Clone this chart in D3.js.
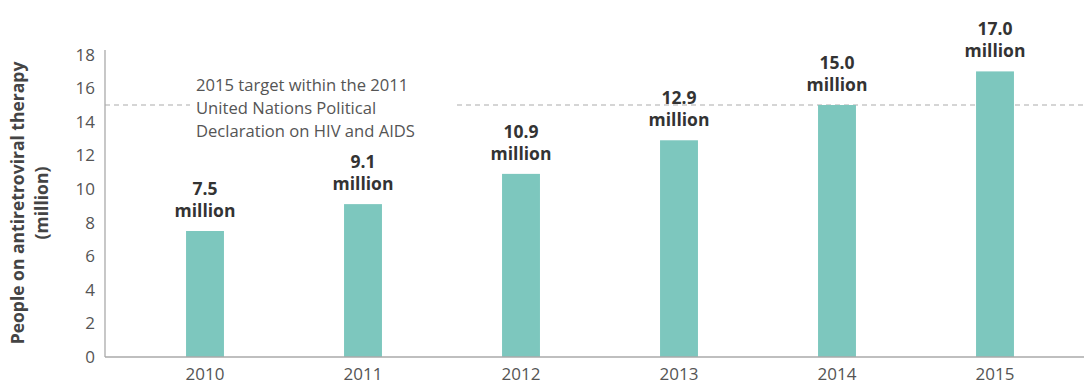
<!DOCTYPE html>
<html>
<head>
<meta charset="utf-8">
<script src="https://cdn.jsdelivr.net/npm/d3@7"></script>
<style>
  html, body { margin: 0; padding: 0; background: #fff; }
  svg { display: block; font-family: "Open Sans", Lato, sans-serif; }
</style>
</head>
<body>
<svg id="chart" width="1084" height="381"></svg>
<script>
// People on antiretroviral therapy, 2010–2015 (million)
const years = ["2010", "2011", "2012", "2013", "2014", "2015"];
const people = [7.5, 9.1, 10.9, 12.9, 15.0, 17.0];
const valueLabels = ["7.5", "9.1", "10.9", "12.9", "15.0", "17.0"];
const yTicks = [0, 2, 4, 6, 8, 10, 12, 14, 16, 18];
const target = 15;
const targetNote = [
  "2015 target within the 2011",
  "United Nations Political",
  "Declaration on HIV and AIDS"
];

const svg = d3.select("#chart");
const axisX = 105, baseY = 357;
const font = "'Open Sans', Lato, sans-serif";

const x = d3.scaleBand()
  .domain(years)
  .range([126, 1074])
  .paddingInner(0.76)
  .paddingOuter(0.38);

const y = d3.scaleLinear()
  .domain([0, 18])
  .range([baseY, baseY - 18 * 16.8]);

// target reference line (behind the bars), broken where the note sits
const tY = y(target);
[[axisX, 190], [457, 1084]].forEach(([a, b]) => {
  svg.append("line")
    .attr("x1", a).attr("x2", b)
    .attr("y1", tY).attr("y2", tY)
    .attr("stroke", "#ababab")
    .attr("stroke-width", 1.2)
    .attr("stroke-dasharray", "5,4");
});

svg.append("text")
  .attr("x", 196)
  .attr("y", 91)
  .attr("fill", "#555")
  .attr("font-size", 16.6)
  .selectAll("tspan")
  .data(targetNote)
  .join("tspan")
  .attr("x", 196)
  .attr("dy", (d, i) => i === 0 ? 0 : 22.8)
  .text(d => d);

// bars
svg.append("g")
  .selectAll("rect")
  .data(people)
  .join("rect")
  .attr("x", (d, i) => x(years[i]))
  .attr("width", x.bandwidth())
  .attr("y", d => y(d))
  .attr("height", d => baseY - y(d))
  .attr("fill", "#7dc7be");

// value labels
const lbl = svg.append("g")
  .attr("font-weight", 700)
  .attr("font-size", 17.5)
  .attr("fill", "#333")
  .attr("text-anchor", "middle")
  .selectAll("text")
  .data(people)
  .join("text")
  .attr("x", (d, i) => x(years[i]) + x.bandwidth() / 2)
  .attr("y", d => y(d) - 36);
lbl.append("tspan").text((d, i) => valueLabels[i]);
lbl.append("tspan")
  .attr("x", (d, i) => x(years[i]) + x.bandwidth() / 2)
  .attr("dy", 22)
  .text("million");

// axes
const yAxis = svg.append("g")
  .attr("transform", `translate(${axisX},0)`)
  .call(d3.axisLeft(y).tickValues(yTicks).tickSize(0).tickPadding(10));
yAxis.select(".domain").attr("stroke", "#aaa").attr("stroke-width", 1.3)
  .attr("d", `M0,50V${baseY}`);
yAxis.selectAll("text")
  .attr("font-family", font)
  .attr("font-size", 17)
  .attr("fill", "#555");

const xAxis = svg.append("g")
  .attr("transform", `translate(0,${baseY})`)
  .call(d3.axisBottom(x).tickSize(0).tickPadding(11));
xAxis.select(".domain").attr("stroke", "#aaa").attr("stroke-width", 1.5)
  .attr("d", `M${axisX},0H1084`);
xAxis.selectAll("text")
  .attr("font-family", font)
  .attr("font-size", 17)
  .attr("fill", "#555");

// y-axis title
const title = svg.append("text")
  .attr("transform", "translate(24,203) rotate(-90)")
  .attr("text-anchor", "middle")
  .attr("font-weight", 700)
  .attr("font-size", 17.5)
  .attr("fill", "#444");
title.append("tspan").attr("x", 0).attr("y", 0).text("People on antiretroviral therapy");
title.append("tspan").attr("x", 0).attr("y", 24).text("(million)");
</script>
</body>
</html>
